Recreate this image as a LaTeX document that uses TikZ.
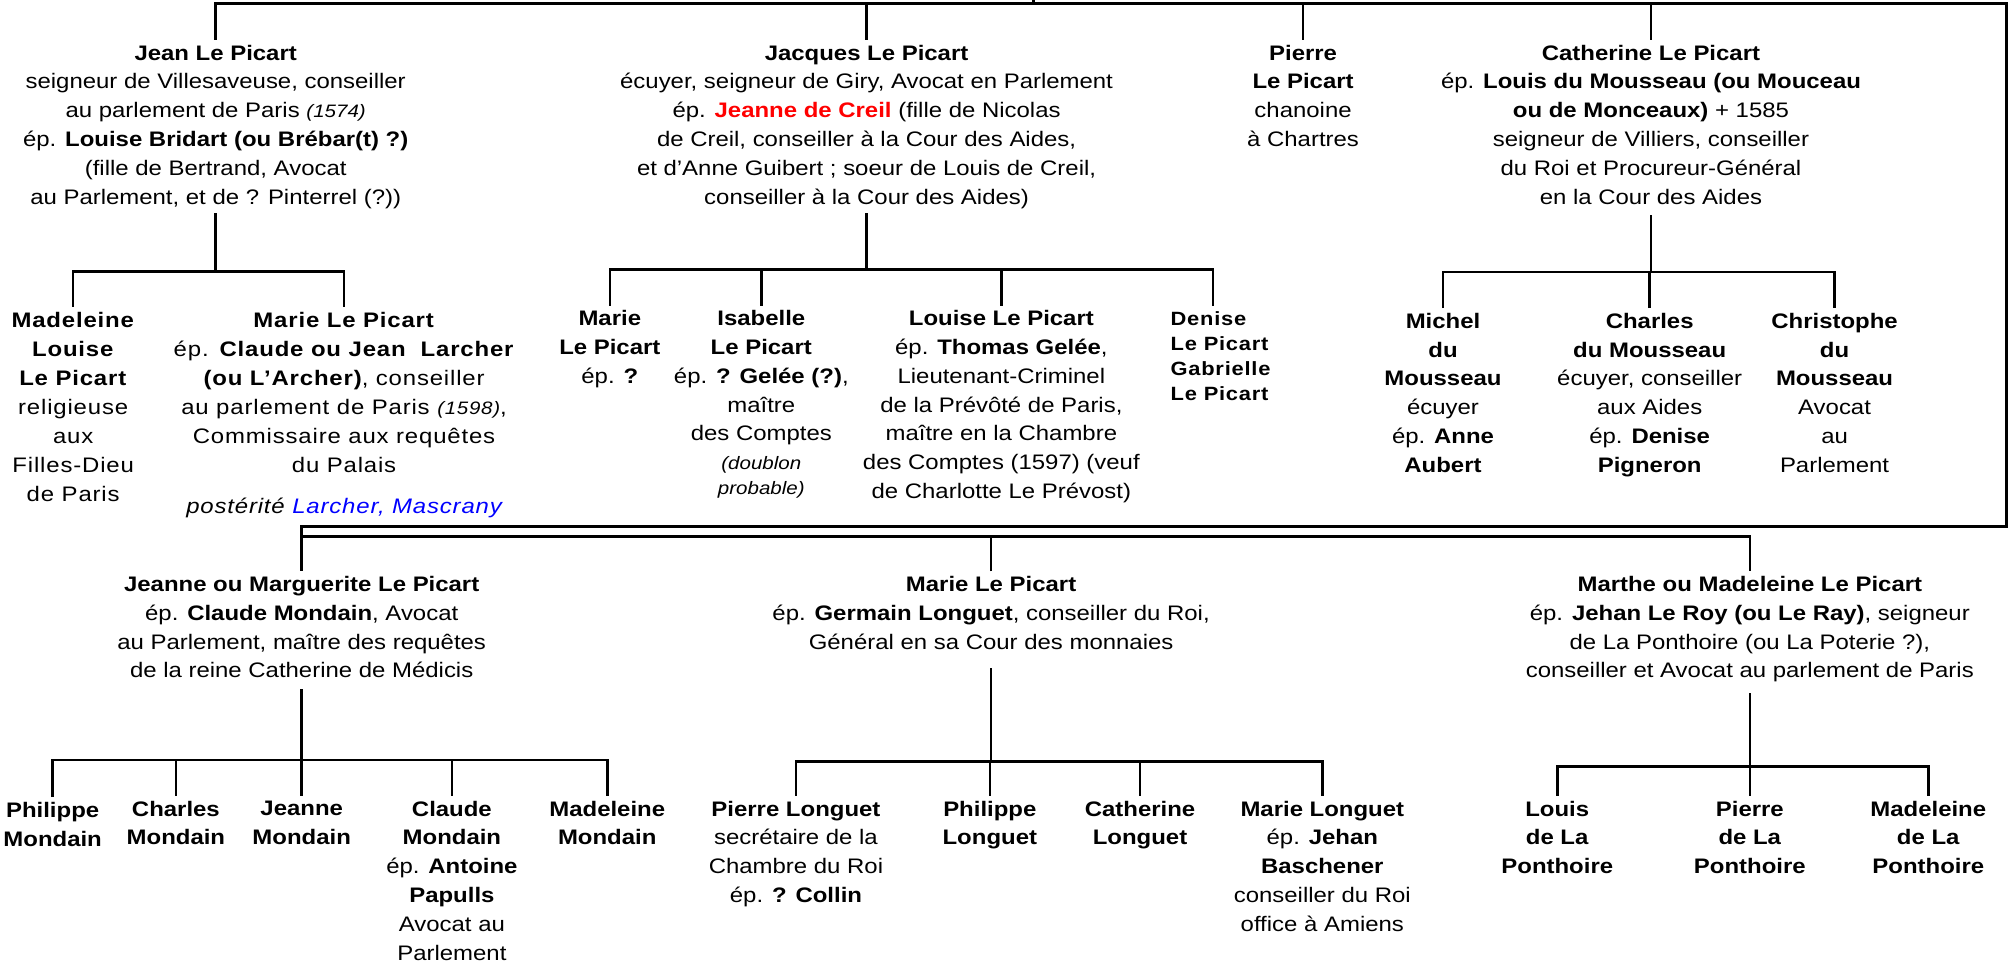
\documentclass[tikz,border=0pt]{standalone}
\usepackage{fontspec}
\setmainfont{Liberation Sans}[FakeStretch=1.14]
\newfontfamily\spacedfont{Liberation Sans}[FakeStretch=1.14,LetterSpace=4]
\definecolor{lpred}{RGB}{255,0,0}
\definecolor{lpblue}{RGB}{0,0,255}
\newcommand\smit[1]{{\fontsize{9}{12}\selectfont\itshape #1}}
\tikzset{
  person/.style={align=center, inner sep=0pt, outer sep=2.5pt, anchor=north,
    font=\fontsize{10.5}{14.4}\selectfont},
  spaced/.style={font=\spacedfont\fontsize{10.5}{14.5}\selectfont},
  link/.style={line width=1.3pt, line join=miter},
}
\begin{document}
\begin{tikzpicture}[x=0.6419pt, y=-0.6419pt]
\useasboundingbox (0,0) rectangle (1568,751);

% ---------- generation 1 ----------
\node[person] (jean) at (168,31) {\textbf{Jean Le Picart}\\
  seigneur de Villesaveuse, conseiller\\
  au parlement de Paris \smit{(1574)}\\
  ép. \textbf{Louise Bridart (ou Brébar(t) ?)}\\
  (fille de Bertrand, Avocat\\
  au Parlement, et de ? Pinterrel (?))};
\node[person] (jacques) at (675,31) {\textbf{Jacques Le Picart}\\
  écuyer, seigneur de Giry, Avocat en Parlement\\
  ép. \textcolor{lpred}{\textbf{Jeanne de Creil}} (fille de Nicolas\\
  de Creil, conseiller à la Cour des Aides,\\
  et d’Anne Guibert ; soeur de Louis de Creil,\\
  conseiller à la Cour des Aides)};
\node[person] (pierre) at (1015,31) {\textbf{Pierre}\\ \textbf{Le Picart}\\ chanoine\\ à Chartres};
\node[person] (cath) at (1286,31) {\textbf{Catherine Le Picart}\\
  ép. \textbf{Louis du Mousseau (ou Mouceau}\\
  \textbf{ou de Monceaux)} + 1585\\
  seigneur de Villiers, conseiller\\
  du Roi et Procureur-Général\\
  en la Cour des Aides};

% ---------- generation 2 ----------
\node[person, spaced] (madlo) at (57,239) {\textbf{Madeleine}\\ \textbf{Louise}\\ \textbf{Le Picart}\\
  religieuse\\ aux\\ Filles-Dieu\\ de Paris};
\node[person, spaced] (marieL) at (268,239) {\textbf{Marie Le Picart}\\
  ép. \textbf{Claude ou Jean~~Larcher}\\
  \textbf{(ou L’Archer)}, conseiller\\
  au parlement de Paris \smit{(1598)},\\
  Commissaire aux requêtes\\
  du Palais\\[6pt]
  \textit{postérité \textcolor{lpblue}{Larcher, Mascrany}}};
\node[person] (marie2) at (475,238) {\textbf{Marie}\\ \textbf{Le Picart}\\ ép. \textbf{?}};
\node[person] (isab) at (593,238) {\textbf{Isabelle}\\ \textbf{Le Picart}\\
  ép. \textbf{? Gelée (?)},\\ maître\\ des Comptes\\ \smit{(doublon}\\[-2pt] \smit{probable)}};
\node[person] (louise) at (780,238) {\textbf{Louise Le Picart}\\
  ép. \textbf{Thomas Gelée},\\
  Lieutenant-Criminel\\
  de la Prévôté de Paris,\\
  maître en la Chambre\\
  des Comptes (1597) (veuf\\
  de Charlotte Le Prévost)};
\node[person, align=left, font=\spacedfont\fontsize{9.6}{12.5}\selectfont] (denise) at (951,238.5)
  {\textbf{Denise}\\ \textbf{Le Picart}\\ \textbf{Gabrielle}\\ \textbf{Le Picart}};
\node[person] (michel) at (1124,240) {\textbf{Michel}\\ \textbf{du}\\ \textbf{Mousseau}\\
  écuyer\\ ép. \textbf{Anne}\\ \textbf{Aubert}};
\node[person] (charles) at (1285,240) {\textbf{Charles}\\ \textbf{du Mousseau}\\
  écuyer, conseiller\\ aux Aides\\ ép. \textbf{Denise}\\ \textbf{Pigneron}};
\node[person] (christ) at (1429,240) {\textbf{Christophe}\\ \textbf{du}\\ \textbf{Mousseau}\\
  Avocat\\ au\\ Parlement};

% ---------- generation 2 (second row) ----------
\node[person] (jeanne) at (235,445) {\textbf{Jeanne ou Marguerite Le Picart}\\
  ép. \textbf{Claude Mondain}, Avocat\\
  au Parlement, maître des requêtes\\
  de la reine Catherine de Médicis};
\node[person] (marieG) at (772,445) {\textbf{Marie Le Picart}\\
  ép. \textbf{Germain Longuet}, conseiller du Roi,\\
  Général en sa Cour des monnaies};
\node[person] (marthe) at (1363,445) {\textbf{Marthe ou Madeleine Le Picart}\\
  ép. \textbf{Jehan Le Roy (ou Le Ray)}, seigneur\\
  de La Ponthoire (ou La Poterie ?),\\
  conseiller et Avocat au parlement de Paris};

% ---------- generation 3 ----------
\node[person] (phil) at (41,621) {\textbf{Philippe}\\ \textbf{Mondain}};
\node[person] (charlesM) at (137,620) {\textbf{Charles}\\ \textbf{Mondain}};
\node[person] (jeanneM) at (235,620) {\textbf{Jeanne}\\ \textbf{Mondain}};
\node[person] (claudeM) at (352,620) {\textbf{Claude}\\ \textbf{Mondain}\\
  ép. \textbf{Antoine}\\ \textbf{Papulls}\\ Avocat au\\ Parlement};
\node[person] (madM) at (473,620) {\textbf{Madeleine}\\ \textbf{Mondain}};

\node[person] (pierreL) at (620,620) {\textbf{Pierre Longuet}\\
  secrétaire de la\\ Chambre du Roi\\ ép. \textbf{? Collin}};
\node[person] (philL) at (771,620) {\textbf{Philippe}\\ \textbf{Longuet}};
\node[person] (cathL) at (888,620) {\textbf{Catherine}\\ \textbf{Longuet}};
\node[person] (marieLg) at (1030,620) {\textbf{Marie Longuet}\\
  ép. \textbf{Jehan}\\ \textbf{Baschener}\\ conseiller du Roi\\ office à Amiens};

\node[person] (louis) at (1213,620) {\textbf{Louis}\\ \textbf{de La}\\ \textbf{Ponthoire}};
\node[person] (pierreP) at (1363,620) {\textbf{Pierre}\\ \textbf{de La}\\ \textbf{Ponthoire}};
\node[person] (madP) at (1502,620) {\textbf{Madeleine}\\ \textbf{de La}\\ \textbf{Ponthoire}};

% ---------- connectors ----------
\coordinate (root) at (805,0);
\coordinate (topR) at (1563,2.6);
\coordinate (botR) at (1563,410);
\coordinate (gL) at (235,410);
\coordinate (lowL) at (235,418);

\draw[link] (jean.north) |- (topR) -- (botR) -- (gL) -- (jeanne.north);
\draw[link] (root) -- (root |- topR);
\draw[link] (jacques.north) -- (jacques.north |- topR);
\draw[link] (pierre.north) -- (pierre.north |- topR);
\draw[link] (cath.north) -- (cath.north |- topR);
\draw[link] (lowL) -| (marthe.north);
\draw[link] (marieG.north) -- (marieG.north |- lowL);

% Jean's children
\coordinate (jbar) at (168,211.6);
\draw[link] (jean.south) -- (jbar);
\draw[link] (madlo.north) |- (jbar) -| (marieL.north);

% Jacques' children
\coordinate (kbar) at (675,209.8);
\draw[link] (jacques.south) -- (kbar);
\draw[link] (marie2.north) |- (kbar) -| ([xshift=-4pt]denise.north);
\draw[link] (isab.north) -- (isab.north |- kbar);
\draw[link] (louise.north) -- (louise.north |- kbar);

% Catherine's children
\coordinate (cbar) at (1286,212);
\draw[link, shorten <=3pt] (cath.south) -- (cbar);
\draw[link] (michel.north) |- (cbar) -| (christ.north);
\draw[link] (charles.north) -- (charles.north |- cbar);

% Jeanne's children
\coordinate (mbar) at (235,592);
\draw[link, shorten <=3pt] (jeanne.south) -- (mbar);
\draw[link] (phil.north) |- (mbar) -| (madM.north);
\draw[link] (charlesM.north) -- (charlesM.north |- mbar);
\draw[link] (jeanneM.north) -- (jeanneM.north |- mbar);
\draw[link] (claudeM.north) -- (claudeM.north |- mbar);

% Marie (Longuet)'s children
\coordinate (lbar) at (772,593);
\draw[link, shorten <=7pt] (marieG.south) -- (lbar);
\draw[link] (pierreL.north) |- (lbar) -| (marieLg.north);
\draw[link] (philL.north) -- (philL.north |- lbar);
\draw[link] (cathL.north) -- (cathL.north |- lbar);

% Marthe's children
\coordinate (pbar) at (1363,597);
\draw[link, shorten <=3pt] (marthe.south) -- (pbar);
\draw[link] (louis.north) |- (pbar) -| (madP.north);
\draw[link] (pierreP.north) -- (pierreP.north |- pbar);
\end{tikzpicture}
\end{document}
